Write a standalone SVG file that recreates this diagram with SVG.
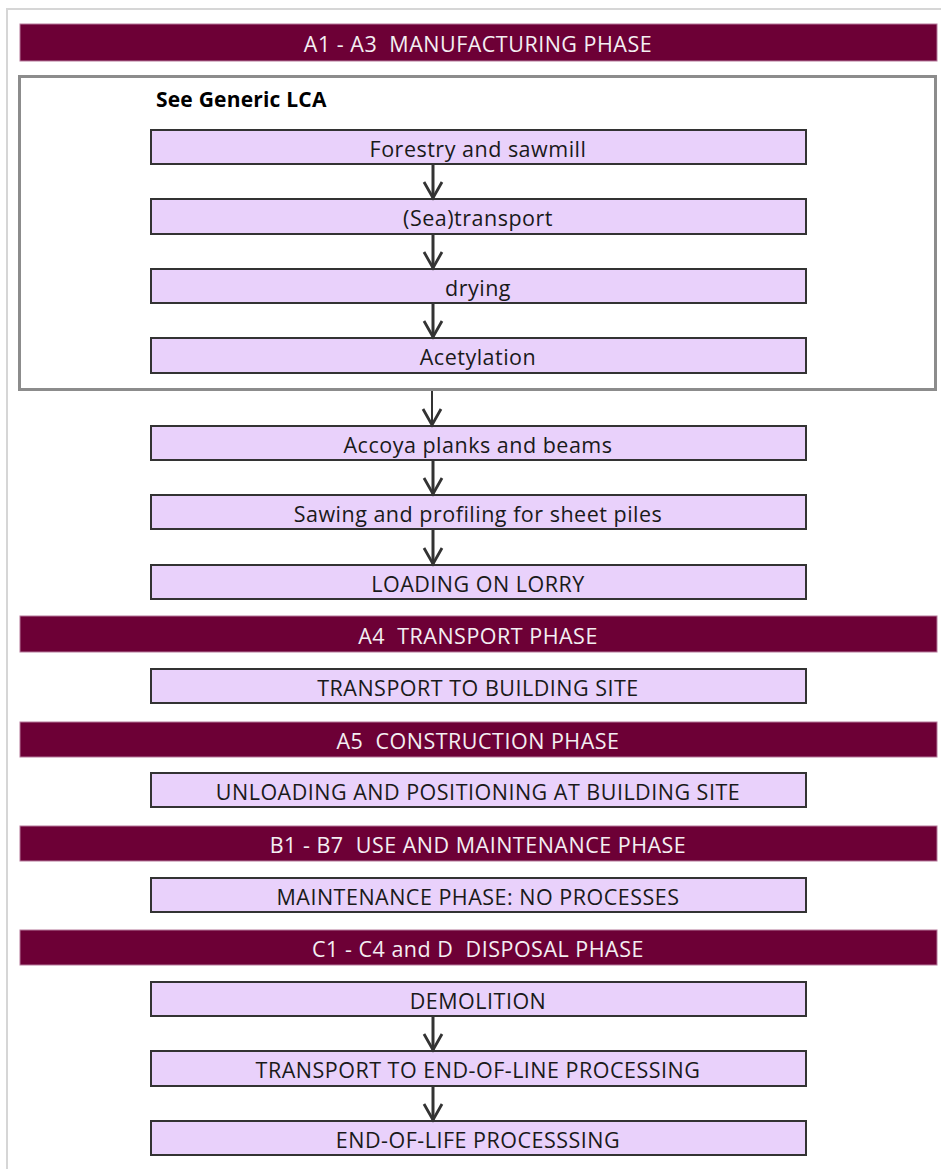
<svg xmlns="http://www.w3.org/2000/svg" width="941" height="1169" viewBox="0 0 941 1169">
<defs>
<style>
.frame{fill:none;stroke:#d6d6d6;stroke-width:2}
.bar{fill:#6d0036;stroke:#b5799a;stroke-width:1}
.bartxt{font-family:"Open Sans",Lato,sans-serif;font-size:21.5px;letter-spacing:0.5px;fill:#f4eef2;text-anchor:middle;dominant-baseline:central;white-space:pre}
.group{fill:#ffffff;stroke:#8c8c8c;stroke-width:3}
.box{fill:#e9d1fb;stroke:#333333;stroke-width:2}
.txt{font-family:"Open Sans",Lato,sans-serif;font-size:21.5px;letter-spacing:0.5px;fill:#1a1a1a;text-anchor:middle;dominant-baseline:central}
.bold{font-family:"Open Sans",Lato,sans-serif;font-size:21px;letter-spacing:0.2px;font-weight:bold;fill:#000}
.conn{fill:none;stroke:#333333;stroke-width:3}
.conn2{fill:none;stroke:#333333;stroke-width:2}
</style>
<marker id="ah" markerUnits="userSpaceOnUse" markerWidth="22" markerHeight="24" viewBox="0 0 22 24" refX="19" refY="12" orient="auto">
<polyline points="3,3 19,12 3,21" fill="none" stroke="#333333" stroke-width="2.8"/>
</marker>
</defs>
<rect width="941" height="1169" fill="#ffffff"/>
<polyline class="frame" points="7,1169 7,9 941,9"/>

<g id="phase-a1a3">
<rect class="bar" x="20" y="24" width="917" height="37"/>
<text class="bartxt" x="478" y="43">A1 - A3  MANUFACTURING PHASE</text>
</g>
<g id="generic-lca">
<rect class="group" x="19.5" y="76.5" width="916" height="313"/>
<text class="bold" x="156" y="107">See Generic LCA</text>
</g>
<g id="forestry"><rect class="box" x="151" y="130" width="655" height="34"/><text class="txt" x="478" y="148">Forestry and sawmill</text></g>
<g id="seatransport"><rect class="box" x="151" y="199" width="655" height="35"/><text class="txt" x="478" y="217">(Sea)transport</text></g>
<g id="drying"><rect class="box" x="151" y="269" width="655" height="34"/><text class="txt" x="478" y="287">drying</text></g>
<g id="acetylation"><rect class="box" x="151" y="338" width="655" height="35"/><text class="txt" x="478" y="356">Acetylation</text></g>
<g id="accoya"><rect class="box" x="151" y="426" width="655" height="34"/><text class="txt" x="478" y="444">Accoya planks and beams</text></g>
<g id="sawing"><rect class="box" x="151" y="495" width="655" height="34"/><text class="txt" x="478" y="513">Sawing and profiling for sheet piles</text></g>
<g id="loading"><rect class="box" x="151" y="565" width="655" height="34"/><text class="txt" x="478" y="583">LOADING ON LORRY</text></g>

<g id="phase-a4"><rect class="bar" x="20" y="616" width="917" height="36"/><text class="bartxt" x="478" y="635">A4  TRANSPORT PHASE</text></g>
<g id="transport-site"><rect class="box" x="151" y="669" width="655" height="34"/><text class="txt" x="478" y="687">TRANSPORT TO BUILDING SITE</text></g>

<g id="phase-a5"><rect class="bar" x="20" y="722" width="917" height="35"/><text class="bartxt" x="478" y="740">A5  CONSTRUCTION PHASE</text></g>
<g id="unloading"><rect class="box" x="151" y="773" width="655" height="34"/><text class="txt" x="478" y="791">UNLOADING AND POSITIONING AT BUILDING SITE</text></g>

<g id="phase-b"><rect class="bar" x="20" y="826" width="917" height="35"/><text class="bartxt" x="478" y="844">B1 - B7  USE AND MAINTENANCE PHASE</text></g>
<g id="maintenance"><rect class="box" x="151" y="878" width="655" height="34"/><text class="txt" x="478" y="896">MAINTENANCE PHASE: NO PROCESSES</text></g>

<g id="phase-c"><rect class="bar" x="20" y="930" width="917" height="35"/><text class="bartxt" x="478" y="948">C1 - C4 and D  DISPOSAL PHASE</text></g>
<g id="demolition"><rect class="box" x="151" y="982" width="655" height="34"/><text class="txt" x="478" y="1000">DEMOLITION</text></g>
<g id="transport-eol"><rect class="box" x="151" y="1051" width="655" height="35"/><text class="txt" x="478" y="1069">TRANSPORT TO END-OF-LINE PROCESSING</text></g>
<g id="eol"><rect class="box" x="151" y="1121" width="655" height="34"/><text class="txt" x="478" y="1139">END-OF-LIFE PROCESSSING</text></g>

<g id="connectors">
<line class="conn" x1="433" y1="165" x2="433" y2="198" marker-end="url(#ah)"/>
<line class="conn" x1="433" y1="235" x2="433" y2="268" marker-end="url(#ah)"/>
<line class="conn" x1="433" y1="304" x2="433" y2="337" marker-end="url(#ah)"/>
<line class="conn2" x1="432" y1="391" x2="432" y2="425" marker-end="url(#ah)"/>
<line class="conn" x1="433" y1="461" x2="433" y2="494" marker-end="url(#ah)"/>
<line class="conn" x1="433" y1="530" x2="433" y2="564" marker-end="url(#ah)"/>
<line class="conn" x1="433" y1="1017" x2="433" y2="1050" marker-end="url(#ah)"/>
<line class="conn" x1="433" y1="1087" x2="433" y2="1120" marker-end="url(#ah)"/>
</g>
</svg>
